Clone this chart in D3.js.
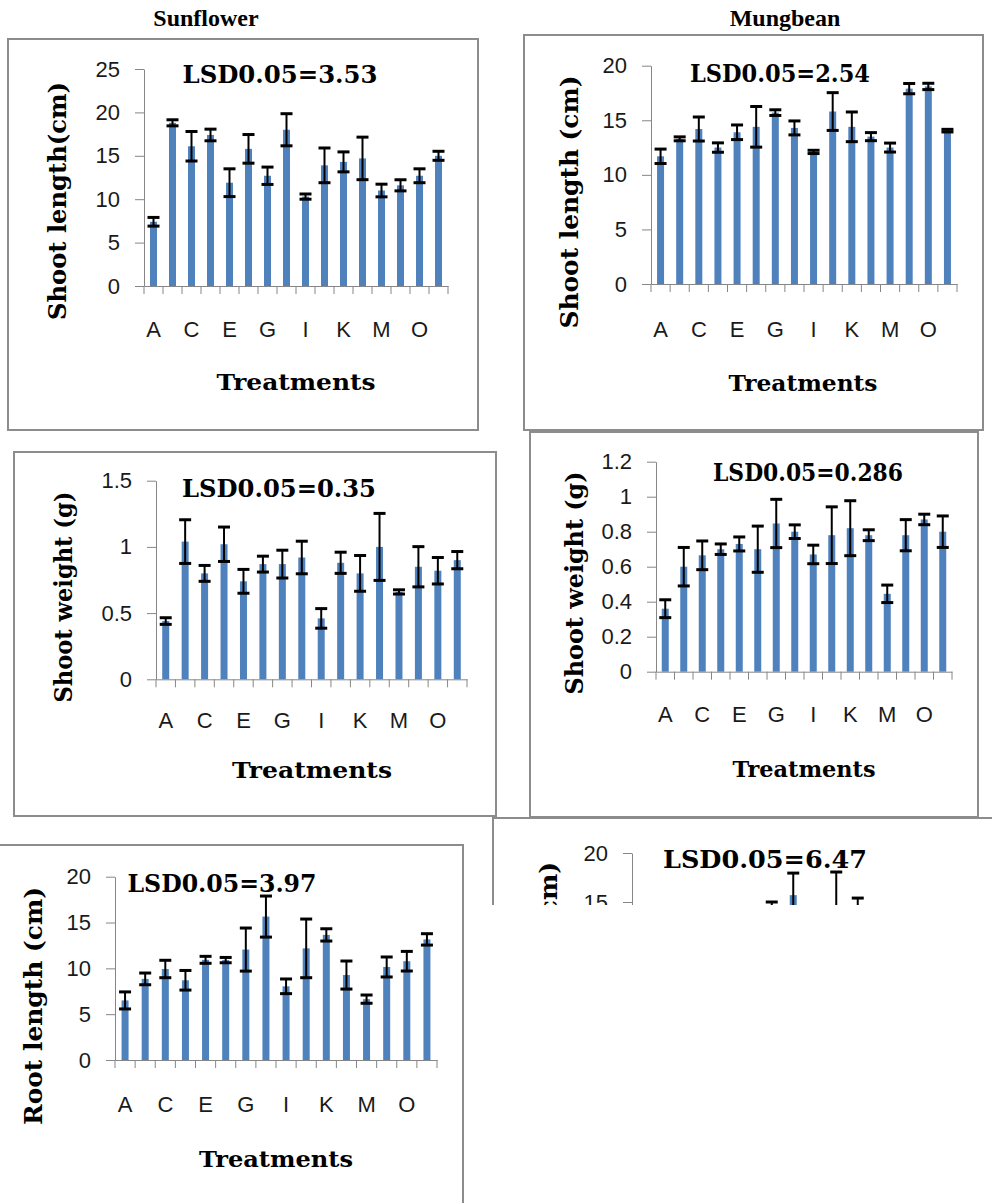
<!DOCTYPE html>
<meta charset="utf-8">
<script src="https://d3js.org/d3.v7.min.js"></script>
<style>
  body { margin: 0; background: #fff; }
</style>
<body>
<div id="chart"></div>
<script>

// treatments A..P
var treatments = ["A","B","C","D","E","F","G","H","I","J","K","L","M","N","O","P"];

// Sunflower - shoot length (cm)
var sunShootLen    = [7.4, 18.8, 16.1, 17.4, 11.9, 15.8, 12.7, 18.0, 10.3, 13.9, 14.3, 14.7, 11.0, 11.6, 12.7, 15.0];
var sunShootLenErr = [0.5, 0.35, 1.7, 0.67, 1.6, 1.65, 1.0, 1.85, 0.3, 2.0, 1.15, 2.45, 0.73, 0.64, 0.8, 0.52];

// Mungbean - shoot length (cm)
var mungShootLen    = [11.7, 13.3, 14.2, 12.5, 13.9, 14.4, 15.7, 14.3, 12.1, 15.8, 14.4, 13.5, 12.5, 17.9, 18.1, 14.05];
var mungShootLenErr = [0.66, 0.18, 1.1, 0.43, 0.67, 1.86, 0.26, 0.64, 0.15, 1.73, 1.36, 0.37, 0.41, 0.47, 0.29, 0.12];

// Sunflower - shoot weight (g)
var sunShootWt    = [0.44, 1.04, 0.80, 1.02, 0.74, 0.87, 0.87, 0.92, 0.46, 0.88, 0.80, 1.00, 0.66, 0.85, 0.82, 0.90];
var sunShootWtErr = [0.025, 0.165, 0.06, 0.13, 0.09, 0.06, 0.105, 0.123, 0.074, 0.08, 0.135, 0.253, 0.016, 0.152, 0.1, 0.065];

// Mungbean - shoot weight (g)
var mungShootWt    = [0.36, 0.60, 0.665, 0.70, 0.73, 0.70, 0.847, 0.80, 0.67, 0.78, 0.82, 0.78, 0.445, 0.78, 0.87, 0.80];
var mungShootWtErr = [0.051, 0.11, 0.082, 0.03, 0.04, 0.132, 0.138, 0.039, 0.053, 0.162, 0.157, 0.031, 0.05, 0.089, 0.03, 0.09];

// Sunflower - root length (cm)
var sunRootLen    = [6.5, 8.85, 9.93, 8.7, 10.93, 10.9, 12.05, 15.65, 8.04, 12.18, 13.65, 9.27, 6.64, 10.15, 10.78, 13.16];
var sunRootLenErr = [0.93, 0.64, 0.95, 1.07, 0.38, 0.29, 2.35, 2.24, 0.8, 3.2, 0.67, 1.53, 0.45, 1.09, 1.07, 0.62];

// Mungbean - root length (cm), only the top is visible in the figure
var mungRootLen    = [8.0, 9.0, 10.0, 9.2, 11.0, 11.2, 13.5, 15.7, 9.0, 13.0, 14.2, 10.0, 8.2, 11.0, 11.5, 12.5];
var mungRootLenErr = [0.8, 0.9, 1.0, 0.8, 1.0, 1.2, 1.5, 2.25, 0.9, 5.06, 1.2, 1.1, 0.7, 1.0, 1.1, 1.0];

var lengthTicks = [0, 5, 10, 15, 20];
var sunLenTicks = [0, 5, 10, 15, 20, 25];
var sunWtTicks  = [0, 0.5, 1, 1.5];
var mungWtTicks = [0, 0.2, 0.4, 0.6, 0.8, 1, 1.2];

var barColor = "#4f81bd";
var axisColor = "#868686";
var frameColor = "#8c8c8c";
var boldFont = "'DejaVu Serif', serif";
var tickFont = "'Liberation Sans', Arial, sans-serif";

var svg = d3.select("#chart").append("svg")
  .attr("width", 992)
  .attr("height", 1203);

// column titles
svg.append("text").attr("x", 206).attr("y", 26).attr("text-anchor", "middle")
  .style("font-family", "'Liberation Serif', 'Times New Roman', serif")
  .style("font-weight", "bold").style("font-size", "24px").text("Sunflower");
svg.append("text").attr("x", 785).attr("y", 26).attr("text-anchor", "middle")
  .style("font-family", "'Liberation Serif', 'Times New Roman', serif")
  .style("font-weight", "bold").style("font-size", "24px").text("Mungbean");

function panel(p) {
  var g = svg.append("g");
  if (p.clip) {
    svg.append("clipPath").attr("id", p.clip.id)
      .append("rect").attr("x", 0).attr("y", 0).attr("width", 992).attr("height", p.clip.bottom);
    g.attr("clip-path", "url(#" + p.clip.id + ")");
  }

  // frame
  g.append("rect")
    .attr("x", p.frame[0]).attr("y", p.frame[1])
    .attr("width", p.frame[2]).attr("height", p.frame[3])
    .attr("fill", "none").attr("stroke", frameColor).attr("stroke-width", 2);

  var x = d3.scaleBand().domain(treatments).range([p.x0, p.x1]);
  var y = d3.scaleLinear().domain([0, p.max]).range([p.y0, p.yTop]);

  // bars
  g.selectAll(".bar").data(p.values).enter().append("rect")
    .attr("x", function(d, i) { return x(treatments[i]) + x.bandwidth() / 2 - 3.5; })
    .attr("y", function(d) { return y(d); })
    .attr("width", 7)
    .attr("height", function(d) { return y(0) - y(d); })
    .attr("fill", barColor);

  // y axis
  var ya = g.append("g").attr("transform", "translate(" + p.x0 + ",0)")
    .call(d3.axisLeft(y).tickValues(p.ticks).tickSize(9).tickSizeOuter(0).tickPadding(15)
      .tickFormat(function(d) { return String(+d.toFixed(2)); }));
  ya.select(".domain").attr("stroke", axisColor);
  ya.selectAll(".tick line").attr("stroke", axisColor);
  ya.selectAll(".tick text").style("font-family", tickFont).style("font-size", "22px").attr("fill", "#1a1a1a");

  // x axis
  var xa = g.append("g").attr("transform", "translate(0," + p.y0 + ")")
    .call(d3.axisBottom(x).tickSize(0).tickSizeOuter(0).tickPadding(p.xPad)
      .tickFormat(function(d, i) { return i % 2 ? "" : d; }));
  xa.select(".domain").attr("stroke", axisColor);
  xa.selectAll(".tick text").style("font-family", tickFont).style("font-size", "22px").attr("fill", "#1a1a1a");
  xa.selectAll(".bnd").data(d3.range(treatments.length + 1)).enter().append("line")
    .attr("x1", function(i) { return i < treatments.length ? x(treatments[i]) : p.x1; })
    .attr("x2", function(i) { return i < treatments.length ? x(treatments[i]) : p.x1; })
    .attr("y1", 0).attr("y2", 8)
    .attr("stroke", axisColor);

  // error bars
  var eb = g.selectAll(".err").data(p.values).enter().append("g")
    .attr("transform", function(d, i) { return "translate(" + (x(treatments[i]) + x.bandwidth() / 2) + ",0)"; });
  eb.append("line")
    .attr("y1", function(d, i) { return y(d - p.errors[i]); })
    .attr("y2", function(d, i) { return y(d + p.errors[i]); })
    .attr("stroke", "#000").attr("stroke-width", 2);
  eb.append("line").attr("x1", -6).attr("x2", 6)
    .attr("y1", function(d, i) { return y(d + p.errors[i]); })
    .attr("y2", function(d, i) { return y(d + p.errors[i]); })
    .attr("stroke", "#000").attr("stroke-width", 3);
  eb.append("line").attr("x1", -6).attr("x2", 6)
    .attr("y1", function(d, i) { return y(d - p.errors[i]); })
    .attr("y2", function(d, i) { return y(d - p.errors[i]); })
    .attr("stroke", "#000").attr("stroke-width", 3);

  // LSD note
  g.append("text").attr("x", p.lsd[0]).attr("y", p.lsd[1]).attr("text-anchor", "middle")
    .attr("textLength", p.lsd[2]).attr("lengthAdjust", "spacingAndGlyphs")
    .style("font-family", boldFont).style("font-weight", "bold").style("font-size", "24px")
    .text(p.lsdText);

  // axis titles
  if (p.xTitle) {
    g.append("text").attr("x", p.xTitle[0]).attr("y", p.xTitle[1]).attr("text-anchor", "middle")
      .attr("textLength", p.xTitle[2]).attr("lengthAdjust", "spacingAndGlyphs")
      .style("font-family", boldFont).style("font-weight", "bold").style("font-size", "23px")
      .text("Treatments");
  }
  g.append("text")
    .attr("transform", "translate(" + p.yTitle[0] + "," + p.yTitle[1] + ") rotate(-90)")
    .attr("text-anchor", "middle")
    .attr("textLength", p.yTitle[2]).attr("lengthAdjust", "spacingAndGlyphs")
    .style("font-family", boldFont).style("font-weight", "bold").style("font-size", "24px")
    .text(p.yText);
}

panel({ frame: [8, 39, 470, 391], x0: 144, x1: 448, y0: 286, yTop: 69, max: 25, ticks: sunLenTicks,
  values: sunShootLen, errors: sunShootLenErr, xPad: 35,
  lsd: [280, 83, 195], lsdText: "LSD0.05=3.53",
  xTitle: [296, 390, 159], yTitle: [66, 201, 238], yText: "Shoot length(cm)" });

panel({ frame: [524, 35, 459, 395], x0: 651, x1: 957, y0: 284, yTop: 65.7, max: 20, ticks: lengthTicks,
  values: mungShootLen, errors: mungShootLenErr, xPad: 37,
  lsd: [780, 82, 180], lsdText: "LSD0.05=2.54",
  xTitle: [803, 391, 149], yTitle: [578, 202, 253], yText: "Shoot length (cm)" });

panel({ frame: [14, 452, 482, 364], x0: 156, x1: 467, y0: 679.3, yTop: 480.7, max: 1.5, ticks: sunWtTicks,
  values: sunShootWt, errors: sunShootWtErr, xPad: 33,
  lsd: [279, 497, 194], lsdText: "LSD0.05=0.35",
  xTitle: [312, 778, 160], yTitle: [72, 597, 211], yText: "Shoot weight (g)" });

panel({ frame: [530, 432, 448, 385], x0: 656, x1: 952, y0: 671.7, yTop: 461.7, max: 1.2, ticks: mungWtTicks,
  values: mungShootWt, errors: mungShootWtErr, xPad: 35,
  lsd: [808, 481, 190], lsdText: "LSD0.05=0.286",
  xTitle: [804, 777, 143], yTitle: [583, 583, 223], yText: "Shoot weight (g)" });

panel({ frame: [-10, 845, 473, 400], x0: 115, x1: 437, y0: 1060, yTop: 876.7, max: 20, ticks: lengthTicks,
  values: sunRootLen, errors: sunRootLenErr, xPad: 36,
  lsd: [222, 892, 189], lsdText: "LSD0.05=3.97",
  xTitle: [276, 1167, 154], yTitle: [42, 1006, 238], yText: "Root length (cm)" });

panel({ frame: [493, 818, 600, 400], x0: 632, x1: 976, y0: 1049, yTop: 853, max: 20, ticks: lengthTicks,
  values: mungRootLen, errors: mungRootLenErr, xPad: 36,
  lsd: [765, 868, 204], lsdText: "LSD0.05=6.47",
  xTitle: null, yTitle: [557, 981, 238], yText: "Root length (cm)",
  clip: { id: "cut", bottom: 905 } });

</script>
</body>
